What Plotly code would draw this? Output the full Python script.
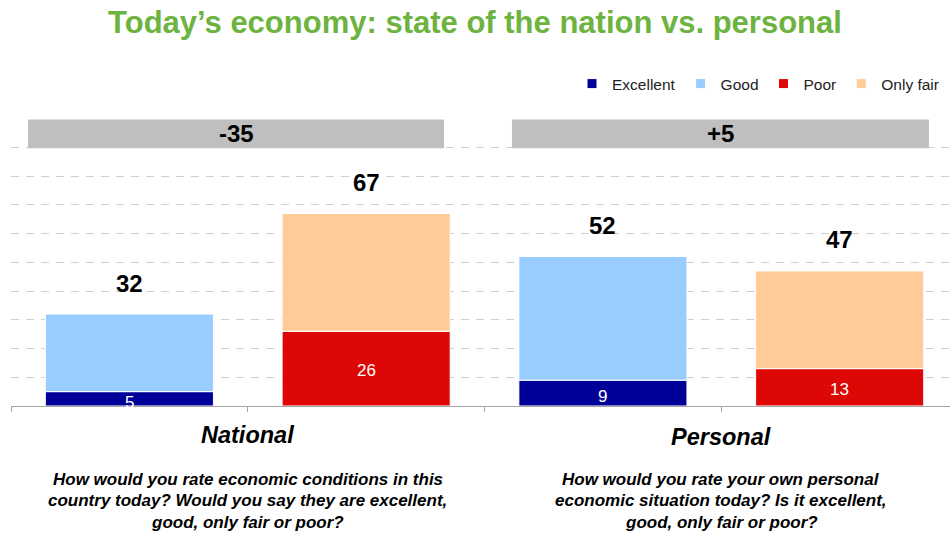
import plotly.graph_objects as go

# ---- data ----
groups = ["National", "Personal"]
bar_x = [0, 1, 2, 3]              # positive/negative bars: National(+,-), Personal(+,-)
excellent = [5, None, 9, None]
good = [27, None, 43, None]
poor = [None, 26, None, 13]
only_fair = [None, 41, None, 34]
totals = [32, 67, 52, 47]
questions = [
    ["How would you rate economic conditions in this",
     "country today? Would you say they are excellent,",
     "good, only fair or poor?"],
    ["How would you rate your own personal",
     "economic situation today? Is it excellent,",
     "good, only fair or poor?"],
]
title = "Today\u2019s economy: state of the nation vs. personal"

FONT = "Arial, Liberation Sans, sans-serif"
C_EXC = "#000099"
C_GOOD = "#99CCFF"
C_POOR = "#DD0806"
C_FAIR = "#FFCC99"

fig = go.Figure()

def add_bar(name, vals, color, base=None):
    fig.add_trace(go.Bar(
        x=bar_x, y=vals, base=base, name=name,
        marker=dict(color=color, line=dict(color="white", width=1)),
        width=0.71, showlegend=False, hoverinfo="skip"))

add_bar("Excellent", excellent, C_EXC)
add_bar("Good", good, C_GOOD, base=[e if e is not None else 0 for e in excellent])
add_bar("Poor", poor, C_POOR)
add_bar("Only fair", only_fair, C_FAIR, base=[p if p is not None else 0 for p in poor])

# legend entries
for name, color in [("Excellent", C_EXC), ("Good", C_GOOD), ("Poor", C_POOR), ("Only fair", C_FAIR)]:
    fig.add_trace(go.Scatter(x=[None], y=[None], mode="markers", name=name,
                             marker=dict(symbol="square", size=9, color=color)))

annotations = []
# totals above bars
for xi, t in zip(bar_x, totals):
    annotations.append(dict(x=xi, y=t, text=f"<b>{t}</b>", showarrow=False, yanchor="middle",
                            yshift=31, font=dict(family=FONT, size=24, color="black")))
# inside labels for Excellent and Poor
for xi, v in zip(bar_x, excellent):
    if v is not None:
        annotations.append(dict(x=xi, y=v / 2, text=str(v), showarrow=False, yshift=-3.5,
                                font=dict(family=FONT, size=17, color="white")))
for xi, v in zip(bar_x, poor):
    if v is not None:
        annotations.append(dict(x=xi, y=v / 2, text=str(v), showarrow=False, yshift=-2,
                                font=dict(family=FONT, size=17, color="white")))

# net boxes
box_x = [(-0.428, 1.329), (1.616, 3.377)]
shapes = []
for gi, (x0, x1) in enumerate(box_x):
    shapes.append(dict(type="rect", xref="x", yref="y", x0=x0, x1=x1, y0=89.7, y1=99.65,
                       fillcolor="#BFBFBF", line=dict(width=0), layer="above"))
    net = totals[2 * gi] - totals[2 * gi + 1]
    label = f"+{net}" if net > 0 else f"{net}"
    annotations.append(dict(x=(x0 + x1) / 2, y=94.7, text=f"<b>{label}</b>", showarrow=False,
                            font=dict(family=FONT, size=24, color="black")))

# group labels and questions
for gi, g in enumerate(groups):
    cx = 2 * gi + 0.5
    annotations.append(dict(x=cx, y=0, text=f"<b><i>{g}</i></b>", showarrow=False, yanchor="middle",
                            yshift=-29 - gi * 2, font=dict(family=FONT, size=23.5, color="black")))
    for li, line in enumerate(questions[gi]):
        annotations.append(dict(x=cx, y=0, text=f"<b><i>{line}</i></b>", showarrow=False,
                                yanchor="middle", yshift=-73 - 21.5 * li,
                                font=dict(family=FONT, size=17, color="black")))

fig.update_layout(
    width=950, height=535,
    margin=dict(l=0, r=0, t=118, b=129),
    paper_bgcolor="white", plot_bgcolor="white",
    barmode="overlay",
    title=dict(text=f"<b>{title}</b>", x=0.5, xanchor="center", y=1 - 22 / 535, yanchor="middle",
               yref="container", font=dict(family=FONT, size=31, color="#6DB33F")),
    showlegend=True,
    legend=dict(orientation="h", x=(950 - 6) / 950, xanchor="right", y=1 + 34 / 288, yanchor="middle",
                font=dict(family=FONT, size=15.5, color="#222222"), itemwidth=30,
                bgcolor="rgba(0,0,0,0)", traceorder="normal"),
    xaxis=dict(domain=[11 / 950, 1], range=[-0.5, 3.466], showgrid=False, zeroline=False,
               showline=True, linecolor="#A6A6A6", linewidth=1,
               tickmode="array", tickvals=[-0.5, 0.5, 1.5, 2.5], ticktext=["", "", "", ""],
               ticks="outside", ticklen=5, tickcolor="#A6A6A6"),
    yaxis=dict(range=[0, 100.2], showticklabels=False, dtick=10, tick0=0,
               showgrid=True, gridcolor="#CFCFCF", griddash="8px,7px", gridwidth=1,
               zeroline=False, showline=False),
    annotations=annotations,
    shapes=shapes,
)

fig.write_html("out.html")
